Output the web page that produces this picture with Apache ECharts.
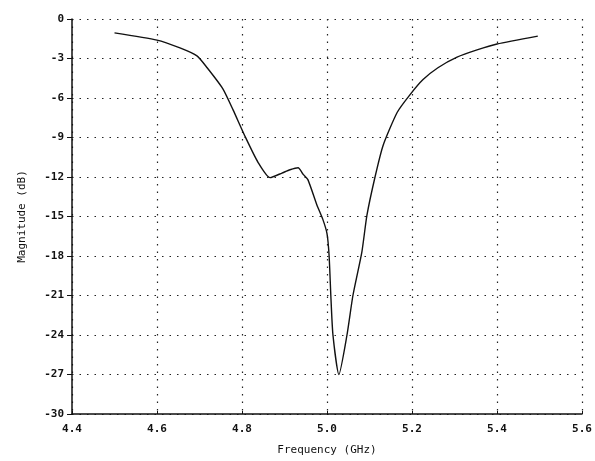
<!DOCTYPE html>
<html>
<head>
<meta charset="utf-8">
<script src="https://cdn.jsdelivr.net/npm/echarts@6/dist/echarts.min.js"></script>
<style>html,body{margin:0;padding:0;background:#fff}#c{width:595px;height:461px}</style>
</head>
<body>
<div id="c"></div>
<script>
const freqGHz = [4.50, 4.60, 4.654, 4.694, 4.718, 4.755, 4.779, 4.807, 4.838, 4.866, 4.894, 4.913, 4.932, 4.944, 4.955, 4.976, 4.99, 5.0, 5.005, 5.009, 5.014, 5.028, 5.047, 5.061, 5.082, 5.094, 5.113, 5.132, 5.165, 5.195, 5.226, 5.261, 5.306, 5.353, 5.40, 5.496];
const magnitudeDb = [-1.05, -1.6, -2.2, -2.8, -3.7, -5.3, -6.9, -8.9, -10.9, -12.05, -11.7, -11.45, -11.3, -11.8, -12.2, -14.1, -15.2, -16.3, -18.0, -21.0, -24.0, -27.0, -24.0, -21.0, -17.7, -14.9, -12.0, -9.6, -7.1, -5.76, -4.6, -3.7, -2.9, -2.35, -1.9, -1.3];
const xTicks = [4.4, 4.6, 4.8, 5.0, 5.2, 5.4, 5.6];
const yTicks = [0, -3, -6, -9, -12, -15, -18, -21, -24, -27, -30];

const font = '"DejaVu Sans Mono", monospace';
const chart = echarts.init(document.getElementById('c'), null, {renderer: 'canvas'});
chart.setOption({
  animation: false,
  backgroundColor: '#fff',
  grid: {left: 72, right: 13, top: 19, bottom: 46, containLabel: false},
  xAxis: {
    type: 'value', min: xTicks[0], max: xTicks[xTicks.length - 1], interval: 0.2,
    name: 'Frequency (GHz)', nameLocation: 'middle', nameGap: 31,
    nameTextStyle: {fontFamily: font, fontSize: 11, color: '#111'},
    axisLine: {show: true, onZero: false, lineStyle: {color: '#111', width: 1.5}},
    axisTick: {show: true, inside: true, length: 3, lineStyle: {color: '#111'}},
    axisLabel: {fontFamily: font, fontSize: 11, fontWeight: 'bold', color: '#111', margin: 10,
      formatter: v => v.toFixed(1)},
    splitLine: {show: true, lineStyle: {color: '#222', type: [1.5, 6], width: 1.2}}
  },
  yAxis: {
    type: 'value', min: yTicks[yTicks.length - 1], max: yTicks[0], interval: 3,
    name: 'Magnitude (dB)', nameLocation: 'middle', nameGap: 44, nameRotate: 90,
    nameTextStyle: {fontFamily: font, fontSize: 11, color: '#111'},
    axisLine: {show: true, onZero: false, lineStyle: {color: '#111', width: 1.5}},
    axisTick: {show: true, length: 5, lineStyle: {color: '#111'}},
    axisLabel: {fontFamily: font, fontSize: 11, fontWeight: 'bold', color: '#111', margin: 8},
    splitLine: {show: true, lineStyle: {color: '#222', type: [1.5, 6], width: 1.2}}
  },
  series: [{
    type: 'line',
    data: freqGHz.map((f, i) => [f, magnitudeDb[i]]),
    showSymbol: false,
    smooth: 0.2,
    lineStyle: {color: '#111', width: 1.4},
    clip: true
  }]
});
</script>
</body>
</html>
